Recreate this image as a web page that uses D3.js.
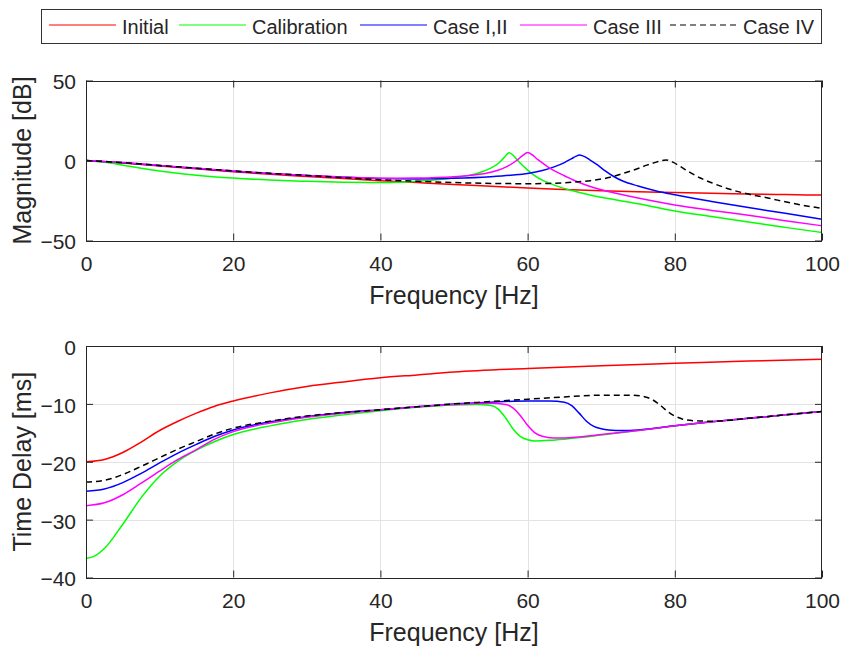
<!DOCTYPE html>
<html>
<head>
<meta charset="utf-8">
<script src="https://cdn.jsdelivr.net/npm/d3@7"></script>
<style>
  body { margin: 0; background: #fff; }
  svg { display: block; }
  text { font-family: "Liberation Sans", Arial, sans-serif; fill: #262626; }
</style>
</head>
<body>
<svg id="chart" width="843" height="647"></svg>
<script>
// ---- data ----------------------------------------------------------------
const seriesNames = ["Initial", "Calibration", "Case I,II", "Case III", "Case IV"];
const seriesColors = ["#ff0000", "#00ff00", "#0000ff", "#ff00ff", "#000000"];
const seriesDash = [null, null, null, null, "6,4"];

const freqTicks = [0, 20, 40, 60, 80, 100];
const magTicks = [-50, 0, 50];
const delayTicks = [-40, -30, -20, -10, 0];

// magnitude, [Hz, dB]
const magInitial = [[0,0],[5,-1.5],[10,-3.4],[15,-5.2],[20,-7],[25,-8.6],[30,-10],[35,-11.3],[40,-12.6],[45,-13.8],[50,-15],[55,-16.1],[60,-17.2],[65,-18.1],[70,-18.9],[75,-19.5],[80,-20],[85,-20.5],[90,-20.9],[95,-21.3],[100,-21.6]];
const magCalibration = [[0,0],[2.5,-1.1],[5,-2.9],[7.5,-4.8],[10,-6.5],[15,-9.2],[20,-11],[25,-12.2],[30,-13],[35,-13.6],[40,-13.8],[45,-13],[48,-11.9],[50,-10.8],[52,-9.3],[53,-8.2],[54,-6.7],[55,-4.8],[56,-1.9],[56.8,1.8],[57.5,4.9],[58.1,3],[58.6,0.3],[59.3,-3],[60,-6],[61,-9.6],[62,-12.3],[63,-14.3],[64.5,-16.8],[66,-18.8],[68.5,-21.6],[70,-23],[75,-27],[80,-31.5],[85,-35],[90,-38.5],[95,-41.8],[100,-45]];
const magCase12 = [[0,0],[5,-1.4],[10,-3.2],[15,-5],[20,-6.7],[25,-8.2],[30,-9.4],[35,-10.4],[40,-11.2],[45,-11.5],[50,-11.1],[55,-10.1],[58,-9.1],[60,-8.1],[62,-6.3],[63.6,-4],[65,-1.3],[66,1.2],[66.6,2.7],[67,3.4],[67.5,2.9],[68.5,0.3],[69.5,-2.8],[70.5,-6.3],[71.7,-10],[73,-13],[75,-15.9],[77.5,-19],[80,-21.4],[82.5,-23.6],[85,-25.6],[90,-29.4],[95,-33],[100,-36.8]];
const magCase3 = [[0,0],[5,-1.3],[10,-3.1],[15,-4.9],[20,-6.6],[25,-8.1],[30,-9.3],[35,-10.3],[40,-11.1],[45,-11],[50,-10.2],[53,-8.9],[55,-7.3],[56.5,-5.2],[57.5,-3],[58.5,0],[59.3,3],[60,5],[60.7,3.3],[61.4,0.5],[62.1,-1.8],[63,-4.8],[64,-7.3],[65,-9.5],[66.2,-12.2],[68,-15.5],[70,-18.3],[72,-20.5],[75,-23.5],[80,-27.8],[85,-31.2],[90,-34.2],[95,-37.6],[100,-40.8]];
const magCase4 = [[0,0],[5,-1.3],[10,-3.1],[15,-4.8],[20,-6.5],[25,-8],[30,-9.3],[35,-10.7],[40,-12],[45,-13],[50,-13.8],[55,-14.3],[60,-14.5],[63,-14.3],[66,-13.6],[68.5,-12.6],[71.2,-10.5],[73.5,-7.3],[75,-5],[76.2,-2.9],[77.5,-1],[78.8,0.3],[79.8,-1.2],[80.7,-3.6],[82,-7.3],[83.4,-10.8],[85,-13.9],[87.5,-18],[90,-21],[92.5,-23.3],[95.7,-26.5],[100,-30]];

// time delay, [Hz, ms]
const delayInitial = [[0,-20],[2.5,-19.6],[5,-18.4],[7.5,-16.6],[10,-14.6],[12.5,-13],[15,-11.6],[17.5,-10.4],[20,-9.5],[25,-8.1],[30,-7],[35,-6.2],[40,-5.5],[45,-5],[50,-4.5],[60,-3.9],[70,-3.4],[80,-3],[90,-2.6],[100,-2.3]];
const delayCalibration = [[0,-36.7],[1,-36.4],[2.5,-35],[5,-30.8],[7.5,-26.2],[10,-22.5],[12.5,-19.9],[15,-18],[17.5,-16.5],[20,-15.3],[25,-13.8],[30,-12.7],[35,-11.9],[40,-11.2],[45,-10.6],[50,-10.2],[53,-10.1],[55,-10.3],[56,-10.9],[57,-12.4],[58,-14.3],[59,-15.6],[60,-16.2],[61,-16.4],[63,-16.3],[65,-16.1],[70,-15.4],[75,-14.6],[80,-13.8],[85,-13.1],[90,-12.5],[95,-11.9],[100,-11.3]];
const delayCase12 = [[0,-25.1],[2.5,-24.7],[5,-23.6],[7.5,-22],[10,-20.2],[12.5,-18.5],[15,-17],[17.5,-15.6],[20,-14.5],[25,-13.1],[30,-12.2],[35,-11.5],[40,-11],[45,-10.5],[50,-10],[55,-9.7],[60,-9.5],[63,-9.5],[65,-9.7],[66,-10.3],[67,-11.6],[68,-13],[69,-13.9],[70,-14.3],[71,-14.5],[73,-14.6],[75,-14.5],[80,-13.8],[85,-13.1],[90,-12.5],[95,-11.9],[100,-11.3]];
const delayCase3 = [[0,-27.6],[2.5,-27.1],[5,-25.7],[7.5,-23.7],[10,-21.6],[12.5,-19.6],[15,-17.9],[17.5,-16.1],[20,-14.8],[25,-13.3],[30,-12.3],[35,-11.6],[40,-11],[45,-10.5],[50,-10.1],[55,-9.9],[57,-10.1],[58,-10.7],[59,-12],[60,-13.7],[61,-15],[62,-15.6],[63.5,-15.9],[65,-15.9],[70,-15.3],[75,-14.6],[80,-13.8],[85,-13.1],[90,-12.5],[95,-11.9],[100,-11.3]];
const delayCase4 = [[0,-23.5],[2.5,-23.2],[5,-22.2],[7.5,-20.8],[10,-19.3],[12.5,-17.8],[15,-16.5],[17.5,-15.2],[20,-14.2],[25,-13],[30,-12.1],[35,-11.5],[40,-11],[45,-10.5],[50,-10],[55,-9.6],[60,-9.2],[65,-8.8],[70,-8.5],[74,-8.5],[76,-8.8],[77,-9.3],[78,-10.2],[79,-11.3],[80,-12.1],[81,-12.6],[82.5,-12.9],[85,-13],[90,-12.5],[95,-11.9],[100,-11.3]];

const magSeries = [magInitial, magCalibration, magCase12, magCase3, magCase4];
const delaySeries = [delayInitial, delayCalibration, delayCase12, delayCase3, delayCase4];

// ---- layout ----------------------------------------------------------------
const svg = d3.select("#chart");
const plotLeft = 86, plotRight = 822;
const panels = [
  { top: 80.5, bottom: 240.5, domain: [-50, 50], ticks: magTicks, series: magSeries,
    ylabel: "Magnitude [dB]", xlabelY: 304 },
  { top: 346, bottom: 577.5, domain: [-40, 0], ticks: delayTicks, series: delaySeries,
    ylabel: "Time Delay [ms]", xlabelY: 641 }
];
const tickLen = 7;
const axisColor = "#262626";
const gridColor = "#e3e3e3";

const x = d3.scaleLinear().domain([0, 100]).range([plotLeft, plotRight]);

panels.forEach((p, i) => {
  const y = d3.scaleLinear().domain(p.domain).range([p.bottom, p.top]);
  const g = svg.append("g");

  // grid
  g.append("g").selectAll("line").data(freqTicks.slice(1, -1)).join("line")
    .attr("x1", d => Math.round(x(d)) + 0.5).attr("x2", d => Math.round(x(d)) + 0.5)
    .attr("y1", p.top).attr("y2", p.bottom)
    .attr("stroke", gridColor).attr("stroke-width", 1);
  g.append("g").selectAll("line").data(p.ticks.slice(1, -1)).join("line")
    .attr("x1", plotLeft).attr("x2", plotRight)
    .attr("y1", d => Math.round(y(d)) + 0.5).attr("y2", d => Math.round(y(d)) + 0.5)
    .attr("stroke", gridColor).attr("stroke-width", 1);

  // curves
  const clipId = "clip" + i;
  svg.append("clipPath").attr("id", clipId).append("rect")
    .attr("x", plotLeft).attr("y", p.top)
    .attr("width", plotRight - plotLeft).attr("height", p.bottom - p.top);
  const line = d3.line().x(d => x(d[0])).y(d => y(d[1])).curve(d3.curveMonotoneX);
  g.append("g").attr("clip-path", `url(#${clipId})`)
    .selectAll("path").data(p.series).join("path")
    .attr("d", line)
    .attr("fill", "none")
    .attr("stroke", (d, k) => seriesColors[k])
    .attr("stroke-width", 1.5)
    .attr("stroke-dasharray", (d, k) => seriesDash[k]);

  // axes (inward ticks on all four sides)
  const fontTick = "21px";
  const bottomAxis = d3.axisBottom(x).tickValues(freqTicks).tickFormat(d3.format("d"))
    .tickSizeInner(-tickLen).tickSizeOuter(0).tickPadding(16);
  const topAxis = d3.axisTop(x).tickValues(freqTicks).tickFormat("")
    .tickSizeInner(-tickLen).tickSizeOuter(0);
  const leftAxis = d3.axisLeft(y).tickValues(p.ticks).tickFormat(d3.format("d"))
    .tickSizeInner(-tickLen).tickSizeOuter(0).tickPadding(10);
  const rightAxis = d3.axisRight(y).tickValues(p.ticks).tickFormat("")
    .tickSizeInner(-tickLen).tickSizeOuter(0);

  const gb = g.append("g").attr("transform", `translate(0,${p.bottom})`).call(bottomAxis);
  const gt = g.append("g").attr("transform", `translate(0,${p.top})`).call(topAxis);
  const gl = g.append("g").attr("transform", `translate(${plotLeft},0)`).call(leftAxis);
  const gr = g.append("g").attr("transform", `translate(${plotRight},0)`).call(rightAxis);
  [gb, gt, gl, gr].forEach(a => {
    a.select(".domain").remove();
    a.selectAll(".tick line").attr("stroke", axisColor);
    a.selectAll("text").attr("font-size", fontTick)
      .attr("font-family", '"Liberation Sans", Arial, sans-serif').attr("fill", axisColor);
  });
  gl.selectAll("text").attr("dy", "0.4em");

  // frame
  g.append("rect")
    .attr("x", plotLeft + 0.5).attr("y", Math.round(p.top) + 0.5)
    .attr("width", plotRight - plotLeft - 1).attr("height", Math.round(p.bottom) - Math.round(p.top))
    .attr("fill", "none").attr("stroke", axisColor).attr("stroke-width", 1);

  // titles
  g.append("text")
    .attr("x", (plotLeft + plotRight) / 2).attr("y", p.xlabelY)
    .attr("text-anchor", "middle").attr("font-size", "25px")
    .text("Frequency [Hz]");
  g.append("text")
    .attr("transform", `translate(31,${(p.top + p.bottom) / 2}) rotate(-90)`)
    .attr("text-anchor", "middle").attr("font-size", "25px")
    .text(p.ylabel);
});

// ---- legend ---------------------------------------------------------------
const legendX = [49, 179, 360, 520, 670];
const legendLineLen = 67;
const legend = svg.append("g");
legend.append("rect")
  .attr("x", 41.5).attr("y", 9.5).attr("width", 780).attr("height", 34)
  .attr("fill", "#fff").attr("stroke", "#333").attr("stroke-width", 1);
const items = legend.selectAll("g.item").data(seriesNames).join("g").attr("class", "item");
items.append("line")
  .attr("x1", (d, k) => legendX[k]).attr("x2", (d, k) => legendX[k] + legendLineLen)
  .attr("y1", 25).attr("y2", 25)
  .attr("stroke", (d, k) => seriesColors[k]).attr("stroke-width", 1.2)
  .attr("stroke-dasharray", (d, k) => seriesDash[k]);
items.append("text")
  .attr("x", (d, k) => legendX[k] + legendLineLen + 6).attr("y", 34)
  .attr("font-size", "20px")
  .text(d => d);
</script>
</body>
</html>
